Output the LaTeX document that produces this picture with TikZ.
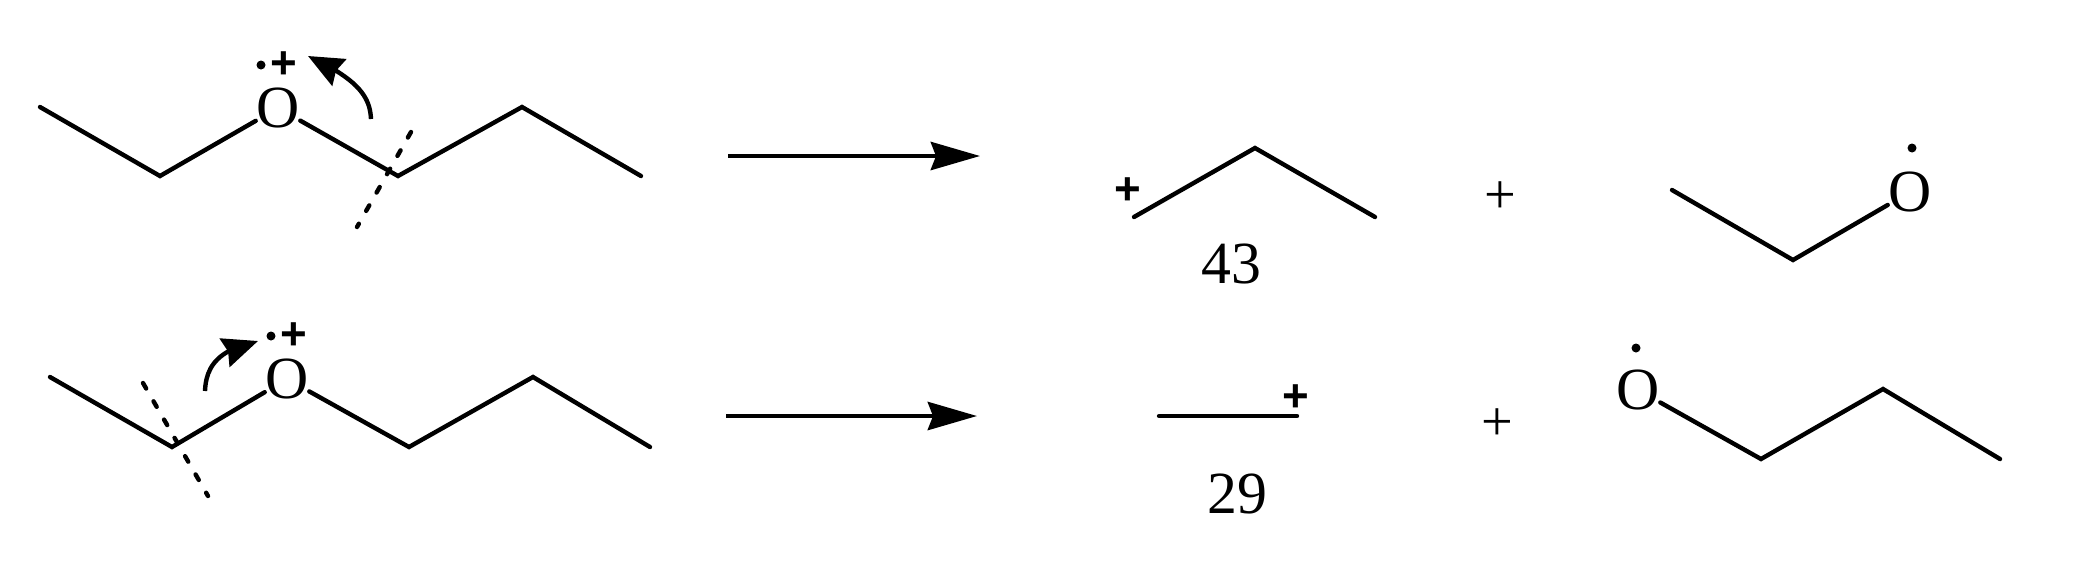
\documentclass[tikz,border=0pt]{standalone}
\usepackage{fontspec}
\setmainfont{Liberation Serif}
\newfontfamily\chargefont{Liberation Sans}
\usetikzlibrary{arrows.meta, positioning, bending}

\begin{document}
\begin{tikzpicture}[x=0.01cm,y=-0.01cm,>=Stealth,bond/.style={line width=1.25pt, line cap=round},cut/.style={line width=1.25pt, dash pattern=on 1.8pt off 4.2pt, line cap=round},react/.style={line width=1.25pt, arrows={-Stealth[length=14pt, width=8pt, inset=1.5pt]}},curly/.style={line width=1.25pt, arrows={-Stealth[length=10pt, width=8.5pt, inset=1pt, flex]}},atom/.style={font=\fontsize{17}{17}\selectfont, inner sep=0pt},mass/.style={font=\fontsize{17}{17}\selectfont, inner sep=0pt},charge/.style={font=\chargefont\bfseries\fontsize{13}{13}\selectfont, inner sep=0pt},plussign/.style={font=\fontsize{16}{16}\selectfont, inner sep=0pt}]
\useasboundingbox (0,0) rectangle (2073,566);
% top ether
\coordinate (a1) at (40,107); \coordinate (a2) at (160,176); \coordinate (a3) at (398,176); \coordinate (a4) at (522,107); \coordinate (a5) at (641,176);
\node[atom] (O1) at (278,108) {O};
\draw[bond] (a1) -- (a2) -- (O1) -- (a3) -- (a4) -- (a5);
\coordinate (c1) at (411,132); \coordinate (c2) at (357,227); \draw[cut] (c1) -- (c2);
\fill (261,65) circle (4.5); \node[charge] (q1) at (284,65) {+};
\coordinate (s1) at (371,119); \coordinate (s2) at (308,56);
\draw[curly] (s1) .. controls (370,98) and (360,80) .. (s2);
% bottom ether
\coordinate (b1) at (50,377); \coordinate (b2) at (172,447); \coordinate (b3) at (409,447); \coordinate (b4) at (533,377); \coordinate (b5) at (650,447);
\node[atom] (O2) at (287,379) {O};
\draw[bond] (b1) -- (b2) -- (O2) -- (b3) -- (b4) -- (b5);
\coordinate (c3) at (143,383); \coordinate (c4) at (208,496); \draw[cut] (c3) -- (c4);
\fill (271,336) circle (4.5); \node[charge] (q2) at (294,336) {+};
\coordinate (s3) at (205,391); \coordinate (s4) at (258,341);
\draw[curly] (s3) .. controls (206,368) and (216,350) .. (s4);
% arrows
\coordinate (r1) at (728,156); \coordinate (r2) at (980,156); \draw[react] (r1) -- (r2);
\coordinate (r3) at (726,416); \coordinate (r4) at (977,416); \draw[react] (r3) -- (r4);
% top products
\coordinate (p1) at (1134,217); \coordinate (p2) at (1255,148); \coordinate (p3) at (1375,217);
\draw[bond] (p1) -- (p2) -- (p3);
\node[charge] (q3) at (1128,191) {+}; \node[mass] (m1) at (1231,264) {43}; \node[plussign] (pl1) at (1500,198) {+};
\coordinate (e1) at (1672,190); \coordinate (e2) at (1793,260); \node[atom] (O3) at (1910,192) {O};
\draw[bond] (e1) -- (e2) -- (O3); \fill (1912,148) circle (4.5);
% bottom products
\coordinate (f1) at (1159,416); \coordinate (f2) at (1297,416); \draw[bond] (f1) -- (f2);
\node[charge] (q4) at (1296,398) {+}; \node[mass] (m2) at (1237,494) {29}; \node[plussign] (pl2) at (1497,425) {+};
\node[atom] (O4) at (1638,390) {O}; \coordinate (g1) at (1761,459); \coordinate (g2) at (1883,389); \coordinate (g3) at (2000,459);
\draw[bond] (O4) -- (g1) -- (g2) -- (g3); \fill (1636,348) circle (4.5);
\end{tikzpicture}
\end{document}
